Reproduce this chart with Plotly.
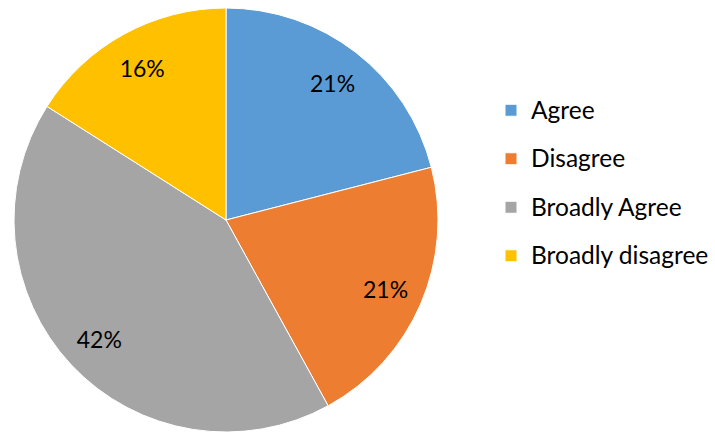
import plotly.graph_objects as go

labels = ["Agree", "Disagree", "Broadly Agree", "Broadly disagree"]
values = [21, 21, 42, 16]
colors = ["#5B9BD5", "#ED7D31", "#A5A5A5", "#FFC000"]

W, H = 715, 432
FONT = "Lato, 'Liberation Sans', sans-serif"

legend_labels = [f"<span style='font-size:24.5px;baseline-shift:5px'>{l}</span>" for l in labels]
dom = dict(x=[13 / W, 439 / W], y=[0, 424 / H])

fig = go.Figure()
# coloured slices + legend
fig.add_trace(go.Pie(
    labels=legend_labels,
    values=values,
    sort=False,
    direction="clockwise",
    rotation=0,
    marker=dict(colors=colors, line=dict(color="white", width=1)),
    textinfo="none",
    hoverinfo="label+percent",
    domain=dom,
))
# percentage labels, placed in an outer ring
fig.add_trace(go.Pie(
    labels=labels,
    values=values,
    sort=False,
    direction="clockwise",
    rotation=0,
    hole=0.64,
    marker=dict(colors=["rgba(0,0,0,0)"] * len(values), line=dict(width=0)),
    texttemplate="%{percent:.0%}",
    textposition="inside",
    insidetextorientation="horizontal",
    textfont=dict(size=23, color="black", family=FONT),
    hoverinfo="skip",
    showlegend=False,
    domain=dom,
))

fig.update_layout(
    width=W, height=H,
    margin=dict(l=0, r=0, t=0, b=0),
    paper_bgcolor="white",
    font=dict(family=FONT, color="black"),
    legend=dict(
        x=491 / W, y=1 - 183 / H, xanchor="left", yanchor="middle",
        font=dict(size=35, family=FONT, color="black"),
        itemwidth=30,
    ),
)

fig.write_html("out.html", config={"displayModeBar": False},
               post_script="document.body.style.margin='0';")
